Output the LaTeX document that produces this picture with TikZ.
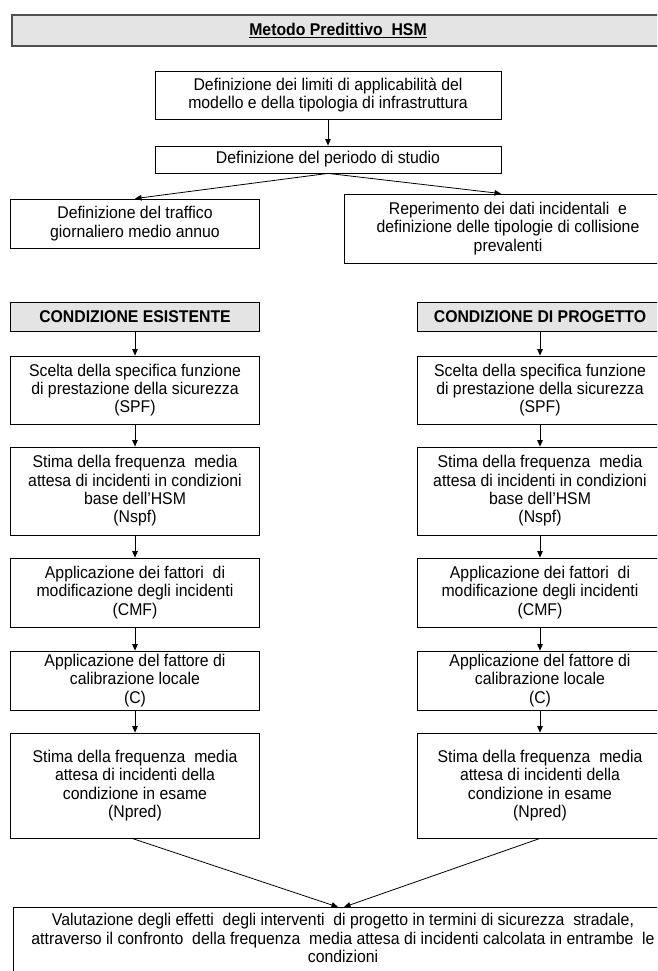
\documentclass[tikz,border=0pt]{standalone}
\usepackage{fontspec}
\setmainfont[FakeStretch=0.93]{Liberation Sans}
\usetikzlibrary{arrows.meta,calc}
\definecolor{hdrgray}{HTML}{E4E4E4}
\definecolor{edgegray}{HTML}{505050}
\newcommand{\fs}{\fontsize{17}{18.3}\selectfont}
\tikzset{
  box/.style={draw=black, line width=0.8pt, align=center, inner sep=0pt, font=\fs, anchor=center},
  hdrbox/.style={box, fill=hdrgray},
  titlebox/.style={box, fill=hdrgray, draw=edgegray, line width=1.3pt},
  txt/.style={align=center, inner sep=0pt, font=\fs},
  arr/.style={-{Triangle[length=6.5pt,width=5.5pt]}, line width=0.8pt, black},
}
\begin{document}
\begin{tikzpicture}[x=1pt,y=-1pt]
\useasboundingbox (0,0) rectangle (657,971);
\clip (0,0) rectangle (657,971);
\node[titlebox, minimum width=652pt, minimum height=31pt] (title) at (338,30.5) {\underline{\textbf{Metodo Predittivo\ \ HSM}}};
\node[box, minimum width=346pt, minimum height=48pt] (b1) at (328,95) {Definizione dei limiti di applicabilità del\\modello e della tipologia di infrastruttura};
\node[box, minimum width=346pt, minimum height=27pt] (b2) at (328,159.5) {Definizione del periodo di studio};
\node[box, minimum width=248.5pt, minimum height=49pt] (b3) at (135,223.5) {Definizione del traffico\\giornaliero medio annuo};
\node[box, minimum width=328pt, minimum height=69pt] (b4) at (508,228.5) {Reperimento dei dati incidentali\ \ e\\definizione delle tipologie di collisione\\prevalenti};
% left column
\node[hdrbox, minimum width=248.5pt, minimum height=29pt] (lh) at (135,316.5) {\textbf{CONDIZIONE ESISTENTE}};
\node[box, minimum width=248.5pt, minimum height=68pt] (l1) at (135,390) {Scelta della specifica funzione\\di prestazione della sicurezza\\(SPF)};
\node[box, minimum width=248.5pt, minimum height=88pt] (l2) at (135,491) {Stima della frequenza\ \ media\\attesa di incidenti in condizioni\\base dell’HSM\\(Nspf)};
\node[box, minimum width=248.5pt, minimum height=69pt] (l3) at (135,592.5) {Applicazione dei fattori\ \ di\\modificazione degli incidenti\\(CMF)};
\node[box, minimum width=248.5pt, minimum height=59pt] (l4) at (135,680.5) {Applicazione del fattore di\\calibrazione locale\\(C)};
\node[box, minimum width=248.5pt, minimum height=105pt] (l5) at (135,785.5) {Stima della frequenza\ \ media\\attesa di incidenti della\\condizione in esame\\(Npred)};
% right column
\node[hdrbox, minimum width=246pt, minimum height=29pt] (rh) at (540,316.5) {\textbf{CONDIZIONE DI PROGETTO}};
\node[box, minimum width=246pt, minimum height=68pt] (r1) at (540,390) {Scelta della specifica funzione\\di prestazione della sicurezza\\(SPF)};
\node[box, minimum width=246pt, minimum height=88pt] (r2) at (540,491) {Stima della frequenza\ \ media\\attesa di incidenti in condizioni\\base dell’HSM\\(Nspf)};
\node[box, minimum width=246pt, minimum height=69pt] (r3) at (540,592.5) {Applicazione dei fattori\ \ di\\modificazione degli incidenti\\(CMF)};
\node[box, minimum width=246pt, minimum height=59pt] (r4) at (540,680.5) {Applicazione del fattore di\\calibrazione locale\\(C)};
\node[box, minimum width=246pt, minimum height=105pt] (r5) at (540,785.5) {Stima della frequenza\ \ media\\attesa di incidenti della\\condizione in esame\\(Npred)};
% final
\node[box, minimum width=660pt, minimum height=90pt, anchor=north] (fin) at (343,907) {};
\node[txt] (fintext) at (343,938) {Valutazione degli effetti\ \ degli interventi\ \ di progetto in termini di sicurezza\ \ stradale,\\attraverso il confronto\ \ della frequenza\ \ media attesa di incidenti calcolata in entrambe\ \ le\\condizioni};
% arrows
\draw[arr] (b1.south) -- (b2.north);
\draw[arr] (b2.south) -- (b3.north);
\draw[arr] (b2.south) -- ($(b4.north)+(-7,0)$);
\foreach \a/\b in {lh/l1,l1/l2,l2/l3,l3/l4,l4/l5,rh/r1,r1/r2,r2/r3,r3/r4,r4/r5}
  \draw[arr] (\a.south) -- (\b.north);
\draw[arr] ($(l5.south)+(-3,0)$) -- ($(fin.north)+(-5,0)$);
\draw[arr] (r5.south) -- ($(fin.north)+(1,0)$);
\end{tikzpicture}
\end{document}
